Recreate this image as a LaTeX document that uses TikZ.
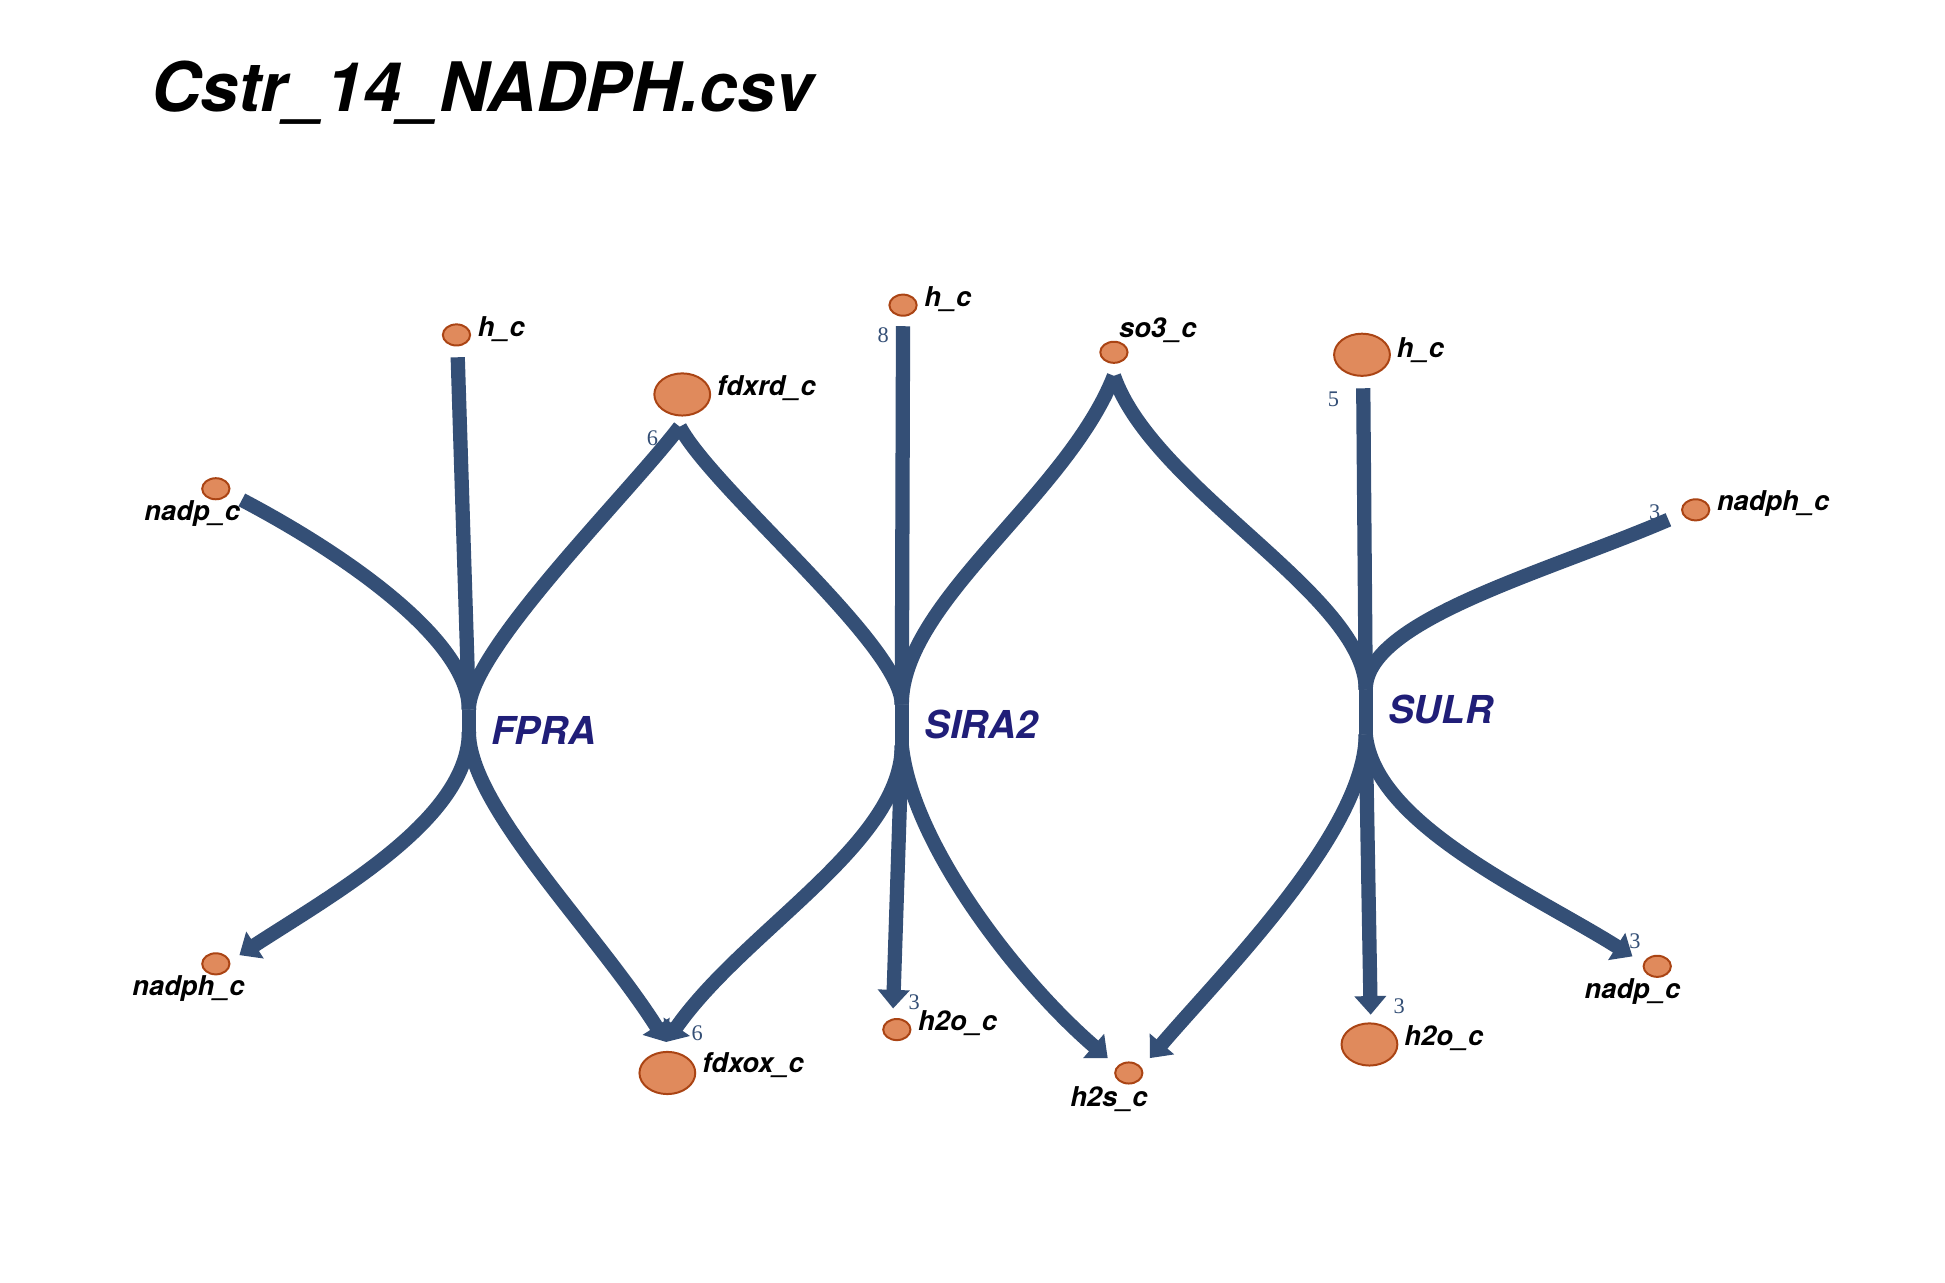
\documentclass[tikz,border=0pt]{standalone}
\usepackage{fontspec}
\setmainfont{TeX Gyre Heros}
\newfontfamily\numfont{Liberation Serif}
\usetikzlibrary{arrows.meta,shapes.geometric}
\definecolor{edgecol}{RGB}{52,79,118}
\definecolor{metfill}{RGB}{224,138,92}
\definecolor{metdraw}{RGB}{170,68,20}
\definecolor{rxncol}{RGB}{32,30,120}
\tikzset{
  met/.style={ellipse, draw=metdraw, fill=metfill, line width=1.6pt, inner sep=0pt},
  smallmet/.style={met, minimum width=22pt, minimum height=17pt},
  bigmet/.style={met, minimum width=45pt, minimum height=34pt},
  metlbl/.style={font=\fontsize{22}{24}\selectfont\bfseries\itshape, text=black, inner sep=0pt},
  rxnlbl/.style={font=\fontsize{31}{34}\selectfont\bfseries\itshape, text=rxncol, inner sep=0pt},
  stoich/.style={font=\numfont\fontsize{18}{19}\selectfont, text=edgecol, inner sep=0pt},
  titlelbl/.style={font=\fontsize{55}{60}\selectfont\bfseries\itshape, text=black, inner sep=0pt},
  flux/.style={draw=edgecol, line width=11.5pt},
  fluxarrow/.style={flux, -{Triangle[width=25pt,length=15pt]}},
}
\begin{document}
\begin{tikzpicture}[x=1pt,y=-1pt]
\fill[white] (0,0) rectangle (1568,1034);
\useasboundingbox (0,0) rectangle (1568,1034);

\node[titlelbl, anchor=west] (title) at (122,75) {Cstr\_14\_NADPH.csv};

% metabolites
\node[smallmet] (hF) at (368,270) {};
\node[bigmet] (fdxrd) at (550,318) {};
\node[smallmet] (nadpL) at (174,394) {};
\node[smallmet] (hS) at (728,246) {};
\node[smallmet] (so3) at (898,284) {};
\node[bigmet] (hU) at (1098,286) {};
\node[smallmet] (nadphR) at (1367,411) {};
\node[smallmet] (nadphL) at (174,777) {};
\node[bigmet] (fdxox) at (538,865) {};
\node[smallmet] (h2oS) at (723,830) {};
\node[smallmet] (h2s) at (910,865) {};
\node[bigmet] (h2oU) at (1104,842) {};
\node[smallmet] (nadpR) at (1336,779) {};

% metabolite labels
\node[metlbl, anchor=west] (hFl) at (385,265) {h\_c};
\node[metlbl, anchor=west] (fdxrdl) at (578,313) {fdxrd\_c};
\node[metlbl] (nadpLl) at (155,414) {nadp\_c};
\node[metlbl, anchor=west] (hSl) at (745,241) {h\_c};
\node[metlbl, anchor=west] (so3l) at (902,266) {so3\_c};
\node[metlbl, anchor=west] (hUl) at (1126,282) {h\_c};
\node[metlbl, anchor=west] (nadphRl) at (1384,406) {nadph\_c};
\node[metlbl] (nadphLl) at (152,797) {nadph\_c};
\node[metlbl, anchor=west] (fdxoxl) at (566,859) {fdxox\_c};
\node[metlbl, anchor=west] (h2oSl) at (740,825) {h2o\_c};
\node[metlbl] (h2sl) at (894,886) {h2s\_c};
\node[metlbl, anchor=west] (h2oUl) at (1132,837) {h2o\_c};
\node[metlbl] (nadpRl) at (1316,799) {nadp\_c};

% reaction junction coordinates
\coordinate (Ft) at (378,572); \coordinate (Fb) at (378,590);
\coordinate (St) at (727,568); \coordinate (Sb) at (727,601);
\coordinate (Ut) at (1101,556); \coordinate (Ub) at (1101,592);

% edge start / end coordinates
\coordinate (hFs) at (369,288);
\coordinate (nadpLs) at (195,403);
\coordinate (fdxrds) at (548,344);
\coordinate (hSs) at (728,263);
\coordinate (so3s) at (898,303);
\coordinate (hUs) at (1099,313);
\coordinate (nadphRs) at (1345,419);
\coordinate (nadphLe) at (193,770);
\coordinate (fdxoxe) at (537,840);
\coordinate (h2oSe) at (720,813);
\coordinate (h2sSe) at (893,853);
\coordinate (h2sUe) at (927,853);
\coordinate (h2oUe) at (1105,818);
\coordinate (nadpRe) at (1316,771);

% FPRA
\draw[flux] (hFs) -- (Ft);
\draw[flux] (nadpLs) .. controls (275,445) and (378,515) .. (Ft);
\draw[flux] (fdxrds) .. controls (505,400) and (378,525) .. (Ft);
\draw[flux] (Ft) -- (Fb);
\draw[fluxarrow] (Fb) .. controls (378,660) and (270,720) .. (nadphLe);
\draw[fluxarrow] (Fb) .. controls (378,650) and (480,750) .. (fdxoxe);

% SIRA2
\draw[flux] (hSs) -- (St);
\draw[flux] (so3s) .. controls (860,400) and (727,485) .. (St);
\draw[flux] (fdxrds) .. controls (575,395) and (727,520) .. (St);
\draw[flux] (St) -- (Sb);
\draw[fluxarrow] (Sb) .. controls (727,680) and (600,750) .. (fdxoxe);
\draw[fluxarrow] (Sb) -- (h2oSe);
\draw[fluxarrow] (Sb) .. controls (735,680) and (820,790) .. (h2sSe);

% SULR
\draw[flux] (hUs) -- (Ut);
\draw[flux] (so3s) .. controls (930,395) and (1101,480) .. (Ut);
\draw[flux] (nadphRs) .. controls (1245,462) and (1101,500) .. (Ut);
\draw[flux] (Ut) -- (Ub);
\draw[fluxarrow] (Ub) .. controls (1101,670) and (985,785) .. (h2sUe);
\draw[fluxarrow] (Ub) -- (h2oUe);
\draw[fluxarrow] (Ub) .. controls (1108,665) and (1235,720) .. (nadpRe);

% reaction labels
\node[rxnlbl, anchor=west] (FPRA) at (396,589) {FPRA};
\node[rxnlbl, anchor=west] (SIRA2) at (745,584) {SIRA2};
\node[rxnlbl, anchor=west] (SULR) at (1119,572) {SULR};

% stoichiometries
\node[stoich] (s1) at (526,353) {6};
\node[stoich] (s2) at (712,270) {8};
\node[stoich] (s3) at (1075,322) {5};
\node[stoich] (s4) at (1334,413) {3};
\node[stoich] (s5) at (562,833) {6};
\node[stoich] (s6) at (737,808) {3};
\node[stoich] (s7) at (1128,811) {3};
\node[stoich] (s8) at (1318,759) {3};
\end{tikzpicture}
\end{document}
